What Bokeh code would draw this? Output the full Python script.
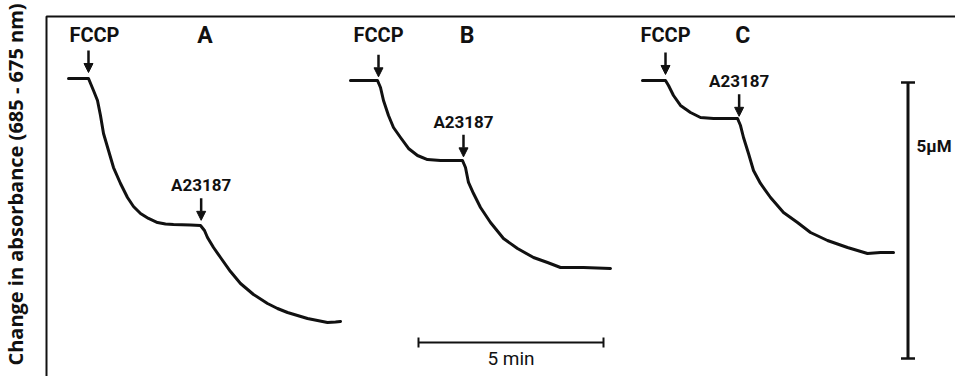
import numpy as np
from bokeh.plotting import figure
from bokeh.models import Range1d, ColumnDataSource, Arrow, NormalHead
from bokeh.core.properties import value
from bokeh.embed import file_html
from bokeh.resources import INLINE

# ---- data: time (min) and absorbance change expressed as µM ----
trace_a_t = [0.595, 1.135, 1.270, 1.378, 1.459, 1.541, 1.676, 1.811, 2.000, 2.189, 2.351,
             2.541, 2.757, 3.000, 3.216, 3.432, 3.892, 4.162, 4.270, 4.351, 4.514, 4.703,
             4.973, 5.243, 5.595, 5.973, 6.243, 6.514, 6.784, 7.054, 7.324, 7.595, 7.811, 7.946]
trace_a_y = [-1.123, -1.123, -1.341, -1.522, -1.793, -2.120, -2.428, -2.736, -3.025, -3.279, -3.442,
             -3.569, -3.659, -3.732, -3.759, -3.768, -3.777, -3.786, -3.877, -4.004, -4.185, -4.366,
             -4.620, -4.837, -5.036, -5.199, -5.290, -5.362, -5.417, -5.471, -5.507, -5.543, -5.534, -5.525]

trace_b_t = [8.216, 8.946, 9.027, 9.108, 9.243, 9.378, 9.568, 9.784, 10.027, 10.297, 10.649,
             11.243, 11.324, 11.405, 11.541, 11.730, 12.000, 12.351, 12.730, 13.162, 13.541,
             13.892, 14.514, 15.243]
trace_b_y = [-1.159, -1.159, -1.286, -1.522, -1.793, -2.011, -2.192, -2.391, -2.518, -2.591, -2.609,
             -2.609, -2.736, -3.007, -3.207, -3.460, -3.732, -4.022, -4.203, -4.366, -4.457,
             -4.547, -4.547, -4.565]

trace_c_t = [16.108, 16.730, 16.811, 16.946, 17.135, 17.405, 17.676, 18.027, 18.405, 18.676,
             18.757, 18.838, 18.973, 19.108, 19.297, 19.568, 19.919, 20.297, 20.649, 21.108,
             21.649, 22.189, 22.541, 22.892]
trace_c_y = [-1.159, -1.159, -1.250, -1.431, -1.612, -1.739, -1.830, -1.848, -1.848, -1.848,
             -1.975, -2.192, -2.482, -2.790, -3.025, -3.279, -3.551, -3.732, -3.913, -4.058,
             -4.185, -4.293, -4.275, -4.275]

panel_labels = ["A", "B", "C"]
fccp_time = [1.135, 8.973, 16.730]      # FCCP addition (min)
a23187_time = [4.18, 11.27, 18.72]      # A23187 addition (min)
time_bar_min = 5.0
conc_bar_um = 5.0
y_label = "Change in absorbance (685 - 675 nm)"

# ---- layout constants (pixels) ----
W, H = 955, 376
PX_PER_MIN = 37.0
PX_PER_UM = 55.2
LEFT_PX, TOP_PX = 46, 16


def t_of(px):
    return (px - LEFT_PX) / PX_PER_MIN


def y_of(py):
    return -(py - TOP_PX) / PX_PER_UM


p = figure(width=W, height=H, output_backend="svg", toolbar_location=None,
           x_range=Range1d(t_of(0), t_of(W)), y_range=Range1d(y_of(H), y_of(0)),
           x_axis_type=None, y_axis_type=None, min_border=0,
           outline_line_color=None, background_fill_color="white",
           border_fill_color="white")

INK = "#111111"
FONT = value("Roboto")
BOLD = value("bold")

# frame (left and top borders)
p.line([0, 0, p.x_range.end], [p.y_range.start, 0, 0], line_width=2, color=INK)

traces = [(trace_a_t, trace_a_y), (trace_b_t, trace_b_y), (trace_c_t, trace_c_y)]
for tt, yy in traces:
    p.line(tt, yy, line_width=3, color=INK, line_join="round", line_cap="round")

# arrows
gap = 6 / PX_PER_UM
alen = 22 / PX_PER_UM
fccp_level = [float(np.interp(ft, tt, yy)) for ft, (tt, yy) in zip(fccp_time, traces)]
a_level = [float(np.interp(at, tt, yy)) for at, (tt, yy) in zip(a23187_time, traces)]

ax = fccp_time + a23187_time
ay_end = [lv + gap for lv in fccp_level + a_level]
ay_start = [ye + alen for ye in ay_end]
arrow_src = ColumnDataSource(dict(x=ax, ys=ay_start, ye=ay_end))
p.add_layout(Arrow(source=arrow_src, x_start="x", y_start="ys", x_end="x", y_end="ye",
                   line_width=2.5, line_color=INK,
                   end=NormalHead(size=9, fill_color=INK, line_color=INK, line_width=1)))

# FCCP labels and panel letters (top row)
row_y = y_of(34.5)
p.text(x=[t + 6 / PX_PER_MIN * (i == 0) for i, t in enumerate(fccp_time)], y=[row_y] * 3,
       text=["FCCP"] * 3, text_font=FONT, text_font_size="20px",
       text_font_style=BOLD, text_align="center", text_baseline="middle", color=INK)
panel_t = [a + 0.1 for a in a23187_time]
p.text(x=panel_t, y=[row_y] * 3, text=panel_labels, text_font=FONT, text_font_size="23px",
       text_font_style=BOLD, text_align="center", text_baseline="middle", color=INK)

# A23187 labels
p.text(x=a23187_time, y=[ys + 13 / PX_PER_UM for ys in ay_start[3:]], text=["A23187"] * 3,
       text_font=FONT, text_font_size="17px", text_font_style=BOLD, text_align="center",
       text_baseline="middle", color=INK)

# 5 min time scale bar
tb0 = t_of(418)
tb_y = y_of(342)
p.segment(x0=[tb0], y0=[tb_y], x1=[tb0 + time_bar_min], y1=[tb_y], line_width=2, color=INK)
cap = 5 / PX_PER_UM
p.segment(x0=[tb0, tb0 + time_bar_min], y0=[tb_y - cap] * 2, x1=[tb0, tb0 + time_bar_min],
          y1=[tb_y + cap] * 2, line_width=2, color=INK)
p.text(x=[tb0 + time_bar_min / 2], y=[tb_y - 16 / PX_PER_UM], text=["5 min"], text_font=FONT,
       text_font_size="19px", text_font_style=value("normal"), text_align="center",
       text_baseline="middle", color=INK)

# 5 µM concentration scale bar
cb_t = t_of(907.5)
cb_top = y_of(82)
p.segment(x0=[cb_t], y0=[cb_top], x1=[cb_t], y1=[cb_top - conc_bar_um], line_width=3, color=INK)
capw = 7 / PX_PER_MIN
p.segment(x0=[cb_t - capw] * 2, y0=[cb_top, cb_top - conc_bar_um], x1=[cb_t + capw] * 2,
          y1=[cb_top, cb_top - conc_bar_um], line_width=2.5, color=INK)
p.text(x=[t_of(916)], y=[y_of(145)], text=["5µM"], text_font=FONT, text_font_size="17px",
       text_font_style=BOLD, text_align="left", text_baseline="middle", color=INK)

# y-axis title
p.text(x=[t_of(15)], y=[y_of(184)], text=[y_label], angle=np.pi / 2, text_font=value("Open Sans"),
       text_font_size="20px", text_font_style=BOLD, text_align="center",
       text_baseline="middle", color=INK)

open("out.html", "w").write(file_html(p, INLINE))
